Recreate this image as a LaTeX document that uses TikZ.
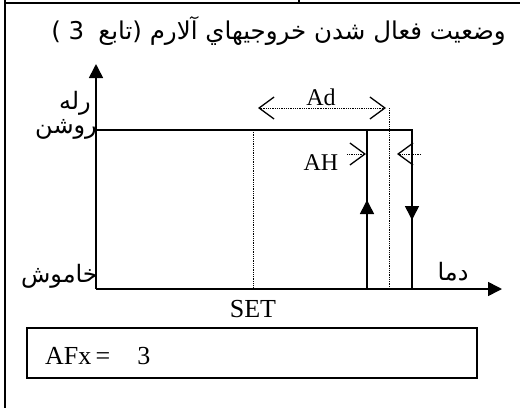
\documentclass[tikz,border=0pt]{standalone}
\usepackage{fontspec}
\setmainfont{Liberation Serif}
\newfontfamily\arabicfont[Script=Arabic]{DejaVu Sans}
\TeXXeTstate=1
\usetikzlibrary{arrows.meta,calc,positioning}
\tikzset{
    >={Triangle[length=14pt,width=14pt]},
    ax/.style={
           ->,
           line width=1.6pt},
    rel/.style={
           line width=1.6pt},
    dots/.style={
           densely dotted,
           line width=0.8pt},
    barb/.style={
           dots,
           -{Straight Barb[length=15pt,width=22pt,line width=1.3pt]}},
    fa/.style={
           font=\arabicfont\fontsize{24}{28}\selectfont,
           inner sep=0pt},
    la/.style={
           font=\fontsize{24}{28}\selectfont,
           inner sep=0pt}
}

\begin{document}
\begin{tikzpicture}[x=1pt,y=-1pt]
          \useasboundingbox (0,0) rectangle (520,408);
          \def \yon {130}
          \def \yoff {289}
          \def \xon {367}
          \def \xoff {412}
          % frame
          \draw[rel] (5,0) -- (5,408);
          \draw[rel] (5,3) -- (520,3);
          \draw[rel] (299,0) -- (299,3);
          \node[fa, anchor=east, font=\arabicfont\fontsize{24.5}{30}\selectfont] (title) at (506,31) {\beginR وضعیت فعال شدن خروجیهاي آلارم (تابع\hspace{14pt}\beginL 3\endL{} )\endR};
          % axes
          \coordinate (O) at (96,\yoff);
          \coordinate (ytop) at (96,64);
          \coordinate (xend) at (502,\yoff);
          \draw[ax] (O) -- (ytop);
          \draw[ax] (O) -- (xend);
          % relay curve
          \coordinate (on0) at (96,\yon);
          \coordinate (on1) at (\xon,\yon);
          \coordinate (on2) at (\xoff,\yon);
          \coordinate (off1) at (\xon,\yoff);
          \coordinate (off2) at (\xoff,\yoff);
          \draw[rel] (on0) -- (on2) -- (off2);
          \draw[rel] (on1) -- (off1);
          \coordinate (up) at (\xon,200);
          \coordinate (down) at (\xoff,220);
          \draw[rel, ->] (off1) -- (up);
          \draw[rel, ->] (on2) -- (down);
          % set point and band
          \coordinate (set0) at (253,\yon);
          \coordinate (set1) at (253,\yoff);
          \coordinate (ad0) at (389,108);
          \coordinate (ad1) at (389,\yoff);
          \draw[dots] (set0) -- (set1);
          \draw[dots] (ad0) -- (ad1);
          \node[la] (ad) at (321,97) {Ad};
          \coordinate (adm) at (321,108);
          \draw[barb] (adm) -- (258,108);
          \draw[barb] (adm) -- (386,108);
          \node[la] (ah) at (321,163) {AH};
          \draw[barb] (347,154) -- (366,154);
          \draw[barb] (421,154) -- (397,154);
          % labels
          \node[fa, anchor=east] (rele) at (91,103) {\beginR رله\endR};
          \node[fa, anchor=east] (roshan) at (97,129) {\beginR روشن\endR};
          \node[fa, anchor=east] (khamosh) at (98,276) {\beginR خاموش\endR};
          \node[fa] (dama) at (453,272) {\beginR دما\endR};
          \node[la, font=\fontsize{26}{30}\selectfont] (set) at (253,309) {SET};
          % mode box
          \node[draw, line width=1.6pt, minimum width=450pt, minimum height=50pt, anchor=north west] (box) at (26,327) {};
          \node[la, anchor=west, font=\fontsize{26}{30}\selectfont] (afx) at (45,356) {AFx\,=\hspace{27pt}3};
\end{tikzpicture}
\end{document}
